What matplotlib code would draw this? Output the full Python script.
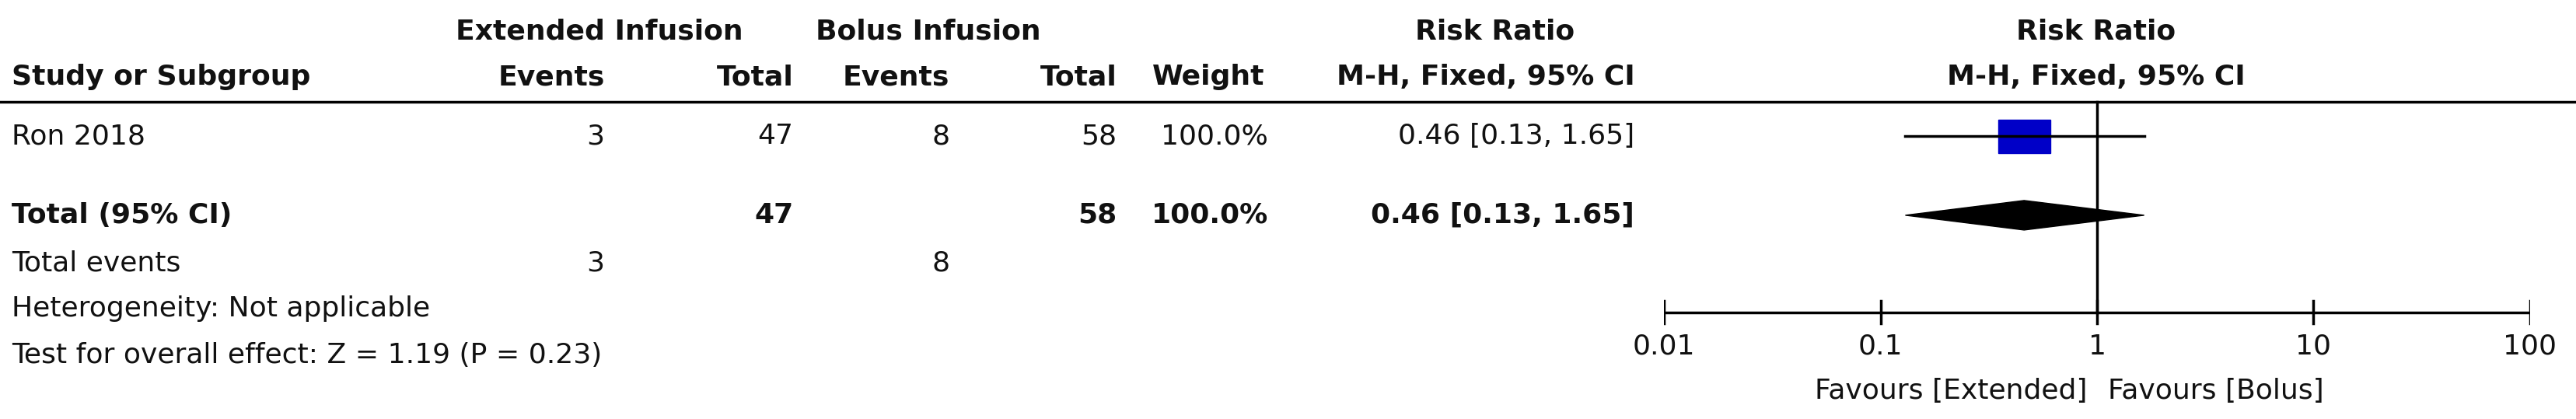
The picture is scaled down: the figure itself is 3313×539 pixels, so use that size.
import numpy as np
import matplotlib.pyplot as plt

study = ["Ron 2018"]
ext_events = [3]
ext_total = [47]
bol_events = [8]
bol_total = [58]
weights = ["100.0%"]
rr = [0.46]
ci_low = [0.13]
ci_high = [1.65]
total_rr, total_low, total_high = 0.46, 0.13, 1.65
ticks = [0.01, 0.1, 1, 10, 100]
tick_labels = ["0.01", "0.1", "1", "10", "100"]

W, H = 1568, 255
fig = plt.figure(figsize=(33.13, 5.39), dpi=100)
ax = fig.add_axes([0, 0, 1, 1])
ax.set_xlim(0, W)
ax.set_ylim(H, 0)
ax.axis("off")

fs = 26
lw = 2.5
def t(x, y, s, ha="left", bold=False):
    ax.text(x, y, s, ha=ha, va="center", fontsize=fs,
            fontweight="bold" if bold else "normal", color="#111111")

# header
t(365, 19, "Extended Infusion", "center", True)
t(565, 19, "Bolus Infusion", "center", True)
t(910, 19, "Risk Ratio", "center", True)
t(1276, 19, "Risk Ratio", "center", True)
t(7, 47, "Study or Subgroup", bold=True)
t(368, 47, "Events", "right", True)
t(483, 47, "Total", "right", True)
t(578, 47, "Events", "right", True)
t(680, 47, "Total", "right", True)
t(770, 47, "Weight", "right", True)
t(995, 47, "M-H, Fixed, 95% CI", "right", True)
t(1276, 47, "M-H, Fixed, 95% CI", "center", True)
ax.plot([0, W], [62, 62], color="black", lw=lw)

y0 = 83
for i, s in enumerate(study):
    y = y0 + 28 * i
    t(7, y, s)
    t(368, y, str(ext_events[i]), "right")
    t(483, y, str(ext_total[i]), "right")
    t(578, y, str(bol_events[i]), "right")
    t(680, y, str(bol_total[i]), "right")
    t(772, y, weights[i], "right")
    t(995, y, f"{rr[i]:.2f} [{ci_low[i]:.2f}, {ci_high[i]:.2f}]", "right")

t(7, 131, "Total (95% CI)", bold=True)
t(483, 131, str(sum(ext_total)), "right", True)
t(680, 131, str(sum(bol_total)), "right", True)
t(772, 131, "100.0%", "right", True)
t(995, 131, f"{total_rr:.2f} [{total_low:.2f}, {total_high:.2f}]", "right", True)
t(7, 160, "Total events")
t(368, 160, str(sum(ext_events)), "right")
t(578, 160, str(sum(bol_events)), "right")
t(7, 188, "Heterogeneity: Not applicable")
t(7, 216, "Test for overall effect: Z = 1.19 (P = 0.23)")

# forest panel
fx = fig.add_axes([1013 / W, 0, (1540 - 1013) / W, 1])
fx.set_xscale("log")
fx.set_xlim(0.01, 100)
fx.set_ylim(H, 0)
fx.axis("off")
for i in range(len(study)):
    y = y0 + 28 * i
    fx.plot([ci_low[i], ci_high[i]], [y, y], color="black", lw=lw)
    half = 0.12
    fx.fill([rr[i] * 10**-half, rr[i] * 10**half, rr[i] * 10**half, rr[i] * 10**-half],
            [y - 10, y - 10, y + 10, y + 10], color="#0000C8")
fx.fill([total_low, total_rr, total_high, total_rr], [131, 122, 131, 140], color="black")
fx.plot([1, 1], [62, 190], color="black", lw=lw)
fx.plot([0.01, 100], [190, 190], color="black", lw=lw)
for tk, lb in zip(ticks, tick_labels):
    fx.plot([tk, tk], [183, 197], color="black", lw=lw)
    fx.text(tk, 211, lb, ha="center", va="center", fontsize=fs, color="#111111")
fx.text(0.9, 238, "Favours [Extended]", ha="right", va="center", fontsize=fs, color="#111111")
fx.text(1.12, 238, "Favours [Bolus]", ha="left", va="center", fontsize=fs, color="#111111")

fig.savefig("out.png", dpi=100)
